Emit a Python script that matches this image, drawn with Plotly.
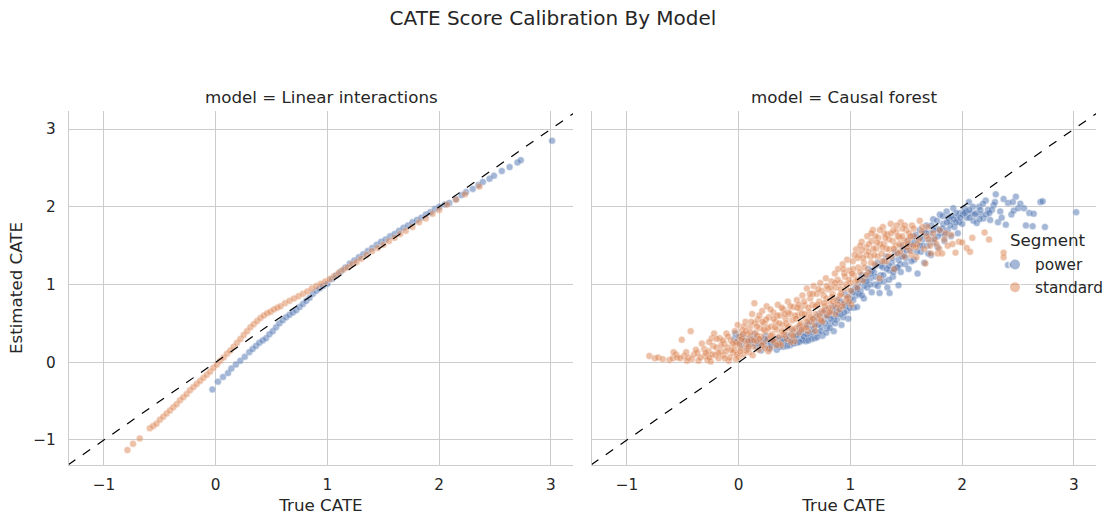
import plotly.graph_objects as go

# ---------------- data ----------------
# Panel 1: model = Linear interactions
lin_power_x = [-0.03, 0.02, 0.065, 0.11, 0.14, 0.18, 0.22, 0.26, 0.30, 0.33,
               0.36, 0.39, 0.42, 0.45, 0.48, 0.51, 0.54, 0.57, 0.60, 0.63,
               0.66, 0.69, 0.72, 0.75, 0.78, 0.81, 0.84, 0.87, 0.90, 0.93,
               0.96, 1.00, 1.04, 1.08, 1.12, 1.16, 1.20, 1.24, 1.28, 1.32,
               1.36, 1.40, 1.44, 1.48, 1.52, 1.56, 1.60, 1.64, 1.68, 1.72,
               1.76, 1.80, 1.84, 1.88, 1.92, 1.96, 2.00, 2.05, 2.09, 2.15,
               2.20, 2.24, 2.30, 2.35, 2.39, 2.45, 2.49, 2.56, 2.63, 2.70,
               2.73, 3.01]
lin_power_y = [-0.35, -0.25, -0.19, -0.14, -0.08, -0.03, 0.02, 0.07, 0.13, 0.17,
               0.21, 0.25, 0.28, 0.31, 0.36, 0.40, 0.45, 0.50, 0.54, 0.58,
               0.61, 0.64, 0.67, 0.71, 0.75, 0.79, 0.83, 0.88, 0.92, 0.95,
               0.98, 1.01, 1.07, 1.12, 1.17, 1.22, 1.27, 1.31, 1.35, 1.39,
               1.43, 1.47, 1.51, 1.55, 1.58, 1.62, 1.65, 1.69, 1.73, 1.76,
               1.80, 1.83, 1.86, 1.90, 1.93, 1.97, 2.00, 2.03, 2.05, 2.10,
               2.15, 2.19, 2.23, 2.28, 2.32, 2.36, 2.40, 2.46, 2.51, 2.57,
               2.60, 2.85]

lin_std_x = [-0.79, -0.74, -0.68, -0.59, -0.56, -0.53, -0.50, -0.47, -0.44, -0.41,
             -0.38, -0.35, -0.32, -0.29, -0.26, -0.23, -0.20, -0.17, -0.14, -0.11,
             -0.08, -0.05, -0.02, 0.01, 0.04, 0.07, 0.10, 0.13, 0.16, 0.19,
             0.22, 0.25, 0.28, 0.31, 0.34, 0.37, 0.40, 0.43, 0.46, 0.49,
             0.52, 0.55, 0.58, 0.62, 0.66, 0.70, 0.74, 0.78, 0.82, 0.86,
             0.90, 0.94, 0.98, 1.02, 1.06, 1.10, 1.14, 1.18, 1.22, 1.26,
             1.30, 1.35, 1.40, 1.45, 1.50, 1.55, 1.60, 1.65, 1.70, 1.76,
             1.82, 1.88, 1.94, 2.00, 2.07, 2.15, 2.23, 2.36]
lin_std_y = [-1.13, -1.05, -0.98, -0.85, -0.82, -0.79, -0.74, -0.70, -0.66, -0.62,
             -0.58, -0.54, -0.49, -0.45, -0.41, -0.36, -0.32, -0.28, -0.24, -0.20,
             -0.16, -0.12, -0.07, -0.03, 0.02, 0.06, 0.11, 0.15, 0.20, 0.25,
             0.30, 0.35, 0.40, 0.45, 0.49, 0.53, 0.57, 0.60, 0.63, 0.65,
             0.68, 0.70, 0.72, 0.76, 0.79, 0.82, 0.85, 0.88, 0.91, 0.95,
             0.98, 1.01, 1.04, 1.07, 1.11, 1.15, 1.19, 1.22, 1.26, 1.29,
             1.33, 1.38, 1.43, 1.47, 1.51, 1.56, 1.60, 1.65, 1.69, 1.74,
             1.80, 1.85, 1.91, 1.96, 2.03, 2.09, 2.16, 2.26]

# Panel 2: model = Causal forest  (pairs of (true, estimated))
cf_std_pts = [
    (-0.80, 0.08), (-0.75, 0.05), (-0.72, 0.06), (-0.68, 0.04), (-0.62, 0.03),
    (-0.59, 0.05), (-0.56, 0.10), (-0.55, 0.06), (-0.51, 0.29), (-0.49, 0.08),
    (-0.47, 0.13), (-0.45, 0.06), (-0.43, 0.40), (-0.42, 0.04), (-0.40, 0.10),
    (-0.37, 0.12), (-0.36, 0.02), (-0.33, 0.24), (-0.31, 0.17), (-0.30, 0.08),
    (-0.28, 0.03), (-0.27, 0.14), (-0.25, 0.01), (-0.24, 0.31), (-0.23, 0.21),
    (-0.22, 0.37), (-0.21, 0.09), (-0.20, 0.19), (-0.18, 0.05), (-0.17, 0.31),
    (-0.16, 0.14), (-0.14, 0.09), (-0.13, 0.24), (-0.11, 0.37), (-0.10, 0.19),
    (-0.09, 0.02), (-0.08, 0.06), (-0.07, 0.28), (-0.05, 0.12), (-0.04, 0.15),
    (-0.03, 0.22), (-0.02, 0.26), (-0.01, 0.48), (0.00, 0.07), (0.01, 0.33),
    (0.02, 0.18), (0.03, 0.41), (0.04, 0.10), (0.05, 0.28), (0.06, 0.52),
    (0.07, 0.22), (0.08, 0.36), (0.09, 0.13), (0.10, 0.45), (0.11, 0.30),
    (0.12, 0.62), (0.13, 0.20), (0.14, 0.76), (0.15, 0.38), (0.16, 0.27),
    (0.17, 0.55), (0.18, 0.16), (0.19, 0.44), (0.20, 0.33), (0.21, 0.66),
    (0.22, 0.24), (0.23, 0.50), (0.24, 0.40), (0.25, 0.72), (0.26, 0.30),
    (0.27, 0.58), (0.28, 0.18), (0.29, 0.46), (0.30, 0.36), (0.31, 0.64),
    (0.32, 0.27), (0.33, 0.52), (0.34, 0.42), (0.35, 0.74), (0.36, 0.33),
    (0.37, 0.60), (0.38, 0.22), (0.39, 0.48), (0.40, 0.68), (0.41, 0.39),
    (0.42, 0.56), (0.43, 0.30), (0.44, 0.78), (0.45, 0.46), (0.46, 0.62),
    (0.47, 0.36), (0.48, 0.54), (0.49, 0.71), (0.50, 0.27), (0.51, 0.44),
    (0.52, 0.80), (0.53, 0.60), (0.54, 0.38), (0.55, 0.68), (0.56, 0.50),
    (0.57, 0.86), (0.58, 0.44), (0.59, 0.73), (0.60, 0.57), (0.61, 0.95),
    (0.62, 0.40), (0.63, 0.64), (0.64, 0.82), (0.65, 0.52), (0.66, 0.74),
    (0.67, 0.98), (0.68, 0.47), (0.69, 0.62), (0.70, 0.88), (0.71, 0.56),
    (0.72, 0.78), (0.73, 1.02), (0.74, 0.66), (0.75, 0.52), (0.76, 0.86),
    (0.77, 0.72), (0.78, 1.08), (0.79, 0.60), (0.80, 0.94), (0.81, 0.78),
    (0.82, 0.66), (0.83, 1.04), (0.84, 0.88), (0.85, 0.72), (0.86, 1.14),
    (0.87, 0.96), (0.88, 0.80), (0.89, 1.20), (0.90, 0.68), (0.91, 1.02),
    (0.92, 0.88), (0.93, 1.26), (0.94, 0.76), (0.95, 1.10), (0.96, 0.95),
    (0.97, 1.32), (0.98, 0.84), (0.99, 1.18), (1.00, 1.02), (1.01, 0.74),
    (1.02, 1.30), (1.03, 1.12), (1.05, 1.45), (1.06, 0.96), (1.07, 1.22),
    (1.08, 1.38), (1.10, 1.55), (1.11, 1.05), (1.12, 1.28), (1.14, 1.48),
    (1.15, 1.62), (1.16, 1.16), (1.18, 1.36), (1.19, 1.56), (1.20, 1.70),
    (1.22, 1.26), (1.23, 1.46), (1.25, 1.60), (1.26, 1.08), (1.28, 1.40),
    (1.29, 1.74), (1.30, 1.52), (1.32, 1.30), (1.33, 1.64), (1.35, 1.45),
    (1.36, 1.78), (1.38, 1.56), (1.39, 1.20), (1.41, 1.68), (1.42, 1.40),
    (1.44, 1.60), (1.45, 1.80), (1.47, 1.50), (1.48, 1.36), (1.50, 1.70),
    (1.52, 1.58), (1.53, 1.44), (1.55, 1.76), (1.57, 1.62), (1.59, 1.35),
    (1.60, 1.52), (1.62, 1.82), (1.64, 1.68), (1.66, 1.46), (1.67, 1.27),
    (1.69, 1.74), (1.70, 1.58), (1.72, 1.40), (1.74, 1.66), (1.77, 1.52),
    (1.78, 1.40), (1.80, 1.70), (1.82, 1.40), (1.84, 1.58), (1.87, 1.50),
    (1.90, 1.64), (1.94, 1.41), (1.97, 1.55), (2.00, 1.54), (2.04, 1.47),
    (2.07, 1.42), (2.09, 1.60), (2.20, 1.67), (2.24, 1.58), (2.37, 1.41),
    (2.37, 1.35),
    # second pass of readings in the dense part of the cloud
    (-0.295, 0.12), (-0.265, 0.26), (-0.235, 0.10), (-0.195, 0.30), (-0.155, 0.22),
    (-0.125, 0.05), (-0.095, 0.33), (-0.065, 0.16), (-0.035, 0.40), (-0.015, 0.10),
    (0.005, 0.24), (0.025, 0.30), (0.045, 0.46), (0.065, 0.15), (0.085, 0.27),
    (0.105, 0.38), (0.125, 0.09), (0.145, 0.50), (0.165, 0.34), (0.185, 0.60),
    (0.205, 0.22), (0.225, 0.42), (0.245, 0.55), (0.265, 0.14), (0.285, 0.68),
    (0.305, 0.28), (0.325, 0.45), (0.345, 0.60), (0.365, 0.24), (0.385, 0.70),
    (0.405, 0.35), (0.425, 0.50), (0.445, 0.64), (0.465, 0.26), (0.485, 0.42),
    (0.505, 0.60), (0.525, 0.70), (0.545, 0.48), (0.565, 0.62), (0.585, 0.78),
    (0.605, 0.45), (0.625, 0.70), (0.645, 0.58), (0.665, 0.88), (0.685, 0.40),
    (0.705, 0.74), (0.725, 0.60), (0.745, 0.92), (0.765, 0.66), (0.785, 0.82),
    (0.805, 0.70), (0.825, 0.96), (0.845, 0.78), (0.865, 0.62), (0.885, 1.06),
    (0.905, 0.86), (0.925, 0.72), (0.945, 1.14), (0.965, 0.82), (0.985, 1.06),
    (1.005, 0.92), (1.025, 1.20), (1.045, 1.04), (1.065, 1.34), (1.085, 1.16),
    (1.105, 1.44), (1.125, 1.22), (1.145, 1.38), (1.165, 1.52), (1.185, 1.28),
    (1.205, 1.46), (1.225, 1.62), (1.245, 1.36), (1.265, 1.52), (1.285, 1.30),
    (1.305, 1.66), (1.325, 1.46), (1.345, 1.58), (1.365, 1.36), (1.385, 1.70),
    (1.405, 1.50), (1.425, 1.62), (1.445, 1.42), (1.465, 1.72), (1.485, 1.56),
    (1.505, 1.48), (1.525, 1.66), (1.545, 1.38), (1.565, 1.72), (1.585, 1.48),
    # third pass
    (-0.583, 0.13), (-0.523, 0.05), (-0.463, 0.02), (-0.383, 0.16), (-0.343, 0.06),
    (-0.263, 0.06), (-0.183, 0.12), (-0.143, 0.28), (-0.113, 0.14), (-0.053, 0.24),
    (-0.023, 0.04), (0.013, 0.14), (0.037, 0.36), (0.063, 0.40), (0.087, 0.20),
    (0.113, 0.52), (0.137, 0.28), (0.163, 0.46), (0.187, 0.30), (0.213, 0.52),
    (0.237, 0.18), (0.263, 0.44), (0.287, 0.34), (0.313, 0.56), (0.337, 0.22),
    (0.363, 0.50), (0.387, 0.40), (0.413, 0.62), (0.437, 0.44), (0.463, 0.72),
    (0.487, 0.34), (0.513, 0.56), (0.537, 0.74), (0.563, 0.42), (0.587, 0.62),
    (0.613, 0.52), (0.637, 0.88), (0.663, 0.56), (0.687, 0.72), (0.713, 0.94),
    (0.737, 0.54), (0.763, 0.76), (0.787, 0.98), (0.813, 0.64), (0.837, 0.84),
    (0.863, 1.02), (0.887, 0.74), (0.913, 0.94), (0.937, 1.20), (0.963, 1.00),
    (0.987, 0.78), (1.013, 1.14), (1.037, 1.38), (1.063, 1.06), (1.087, 1.50),
    (1.113, 1.34), (1.137, 1.12), (1.163, 1.42), (1.187, 1.66), (1.213, 1.38),
    (1.237, 1.54), (1.263, 1.70), (1.287, 1.48), (1.313, 1.60), (1.337, 1.36),
    (1.363, 1.66), (1.387, 1.46), (1.413, 1.76), (1.437, 1.52), (1.463, 1.62),
    (1.487, 1.76), (1.513, 1.52), (1.537, 1.62), (1.563, 1.50), (1.613, 1.58),
    (1.643, 1.74), (1.683, 1.62), (1.713, 1.50), (1.753, 1.58), (1.793, 1.46),
    (1.853, 1.66), (1.913, 1.52),
]
cf_power_pts = [
    (-0.04, 0.30), (-0.03, 0.37), (-0.02, 0.26), (0.00, 0.33), (0.02, 0.22),
    (0.04, 0.35), (0.06, 0.28), (0.08, 0.18), (0.10, 0.31), (0.12, 0.24),
    (0.14, 0.36), (0.16, 0.20), (0.18, 0.29), (0.20, 0.15), (0.22, 0.26),
    (0.24, 0.34), (0.26, 0.21), (0.28, 0.19), (0.30, 0.28), (0.32, 0.23),
    (0.34, 0.16), (0.36, 0.31), (0.38, 0.25), (0.40, 0.20), (0.42, 0.35),
    (0.44, 0.28), (0.46, 0.22), (0.48, 0.40), (0.50, 0.31), (0.52, 0.25),
    (0.54, 0.45), (0.56, 0.30), (0.58, 0.38), (0.60, 0.27), (0.62, 0.48),
    (0.63, 0.34), (0.65, 0.42), (0.66, 0.56), (0.68, 0.31), (0.69, 0.50),
    (0.71, 0.38), (0.72, 0.62), (0.74, 0.46), (0.75, 0.34), (0.77, 0.56),
    (0.78, 0.68), (0.79, 0.44), (0.81, 0.60), (0.82, 0.50), (0.84, 0.72),
    (0.85, 0.40), (0.86, 0.64), (0.88, 0.55), (0.89, 0.80), (0.91, 0.62),
    (0.92, 0.48), (0.94, 0.74), (0.95, 0.88), (0.97, 0.66), (0.98, 0.56),
    (1.00, 0.82), (1.01, 0.92), (1.03, 0.70), (1.05, 0.86), (1.06, 0.71),
    (1.07, 1.00), (1.09, 0.92), (1.10, 1.12), (1.12, 0.82), (1.13, 1.04),
    (1.15, 0.96), (1.16, 1.20), (1.18, 1.08), (1.19, 0.90), (1.21, 1.16),
    (1.22, 1.00), (1.24, 1.28), (1.26, 0.89), (1.27, 1.12), (1.29, 1.22),
    (1.30, 1.04), (1.32, 1.36), (1.33, 0.96), (1.35, 0.89), (1.35, 1.18),
    (1.37, 1.28), (1.38, 1.10), (1.40, 1.42), (1.41, 1.22), (1.43, 0.99),
    (1.43, 1.32), (1.45, 1.16), (1.46, 1.50), (1.48, 1.38), (1.49, 1.26),
    (1.51, 1.56), (1.52, 1.20), (1.54, 1.44), (1.56, 1.62), (1.57, 1.32),
    (1.59, 1.52), (1.60, 1.14), (1.62, 1.70), (1.63, 1.42), (1.65, 1.58),
    (1.66, 1.28), (1.68, 1.76), (1.69, 1.50), (1.71, 1.66), (1.72, 1.38),
    (1.74, 1.84), (1.75, 1.60), (1.77, 1.72), (1.78, 1.48), (1.80, 1.90),
    (1.81, 1.66), (1.83, 1.78), (1.84, 1.56), (1.86, 1.94), (1.87, 1.70),
    (1.89, 1.82), (1.90, 1.62), (1.92, 1.98), (1.93, 1.74), (1.95, 1.86),
    (1.96, 1.66), (1.98, 1.92), (2.00, 1.78), (2.02, 1.98), (2.04, 1.86),
    (2.06, 2.06), (2.08, 1.92), (2.10, 1.82), (2.13, 1.79), (2.15, 2.00),
    (2.17, 1.90), (2.19, 1.85), (2.21, 2.08), (2.23, 1.96), (2.25, 1.83),
    (2.28, 2.02), (2.30, 2.16), (2.32, 1.80), (2.34, 1.94), (2.37, 2.10),
    (2.39, 1.77), (2.41, 2.05), (2.41, 1.25), (2.44, 1.90), (2.46, 1.95),
    (2.48, 2.13), (2.50, 1.98), (2.52, 2.04), (2.57, 1.76), (2.60, 1.92),
    (2.63, 1.75), (2.64, 1.91), (2.70, 2.06), (2.72, 2.07), (2.74, 1.74),
    (3.02, 1.93),
    # second pass of readings in the dense part of the cloud
    (0.03, 0.30), (0.09, 0.25), (0.15, 0.30), (0.21, 0.22), (0.25, 0.28),
    (0.29, 0.24), (0.33, 0.30), (0.37, 0.20), (0.41, 0.27), (0.45, 0.33),
    (0.49, 0.24), (0.53, 0.36), (0.555, 0.40), (0.575, 0.28), (0.595, 0.46),
    (0.615, 0.36), (0.635, 0.52), (0.655, 0.30), (0.675, 0.44), (0.695, 0.58),
    (0.715, 0.48), (0.735, 0.40), (0.755, 0.64), (0.775, 0.50), (0.795, 0.60),
    (0.815, 0.44), (0.835, 0.66), (0.855, 0.56), (0.875, 0.70), (0.895, 0.62),
    (0.915, 0.78), (0.935, 0.58), (0.955, 0.72), (0.975, 0.84), (0.995, 0.70),
    (1.025, 0.80), (1.045, 0.96), (1.075, 0.88), (1.095, 1.06), (1.125, 0.98),
    (1.145, 1.12), (1.175, 1.00), (1.195, 1.18), (1.225, 1.10), (1.245, 0.98),
    (1.275, 1.24), (1.295, 1.12), (1.325, 1.20), (1.345, 1.06), (1.375, 1.34),
    (1.395, 1.20), (1.425, 1.40), (1.445, 1.26), (1.475, 1.46), (1.495, 1.34),
    (1.525, 1.50), (1.545, 1.30), (1.575, 1.56), (1.595, 1.42), (1.625, 1.60),
    (1.645, 1.50), (1.675, 1.66), (1.695, 1.40), (1.725, 1.76), (1.745, 1.54),
    (1.775, 1.82), (1.795, 1.70), (1.825, 1.88), (1.845, 1.64), (1.875, 1.86),
    (1.895, 1.76), (1.925, 1.84), (1.945, 1.92), (1.975, 1.80), (2.005, 1.90),
    (2.035, 1.94), (2.065, 1.86), (2.095, 2.00), (2.125, 1.92), (2.155, 1.84),
    (2.185, 2.04), (2.215, 1.90), (2.265, 1.96),
    # third pass
    (0.113, 0.28), (0.173, 0.24), (0.233, 0.30), (0.273, 0.17), (0.313, 0.26),
    (0.353, 0.22), (0.393, 0.30), (0.433, 0.21), (0.473, 0.28), (0.513, 0.34),
    (0.543, 0.26), (0.583, 0.33), (0.623, 0.28), (0.663, 0.38), (0.703, 0.32),
    (0.743, 0.52), (0.783, 0.38), (0.823, 0.56), (0.863, 0.50), (0.903, 0.68),
    (0.943, 0.64), (0.983, 0.76), (1.023, 0.90), (1.063, 0.94), (1.103, 0.86),
    (1.143, 1.04), (1.183, 1.14), (1.223, 1.24), (1.263, 1.04), (1.303, 1.30),
    (1.343, 1.24), (1.383, 1.16), (1.423, 1.22), (1.463, 1.36), (1.503, 1.44),
    (1.543, 1.52), (1.583, 1.64), (1.623, 1.50), (1.663, 1.68), (1.703, 1.58),
    (1.743, 1.70), (1.783, 1.62), (1.823, 1.72), (1.863, 1.80), (1.903, 1.88),
    (1.943, 1.80), (1.983, 1.86), (2.023, 1.92), (2.063, 1.96), (2.113, 1.90),
    (2.163, 1.96), (2.243, 1.92), (2.293, 2.06), (2.353, 1.86), (2.453, 2.06),
    (2.553, 1.98),
]

panel_titles = ["model = Linear interactions", "model = Causal forest"]
legend_title = "Segment"
tick_vals = [-1, 0, 1, 2, 3]
x_range = [-1.313, 3.197]
y_range = [-1.322, 3.232]

# ---------------- styling ----------------
COLORS = {"power": "#4C72B0", "standard": "#DD8452"}
FONT = "DejaVu Sans"
TXT = "#262626"
GRID = "#cccccc"

# page body margin is removed by a post script, so lay out in window pixels
W, H = 1117, 527
L, R, T, B = 69, 1096, 111, 465
pw, ph = R - L, B - T


def px_x(wx):
    return (wx - L) / pw


def px_y(wy):
    return (B - wy) / ph


def scatter(x, y, seg, xa, ya, show):
    return go.Scatter(
        x=x, y=y, mode="markers", name=seg, legendgroup=seg, showlegend=show,
        xaxis=xa, yaxis=ya, hoverinfo="skip",
        marker=dict(color=COLORS[seg], size=7, opacity=0.5,
                    line=dict(color="white", width=0.5)),
    )


fig = go.Figure()
fig.add_trace(scatter(lin_power_x, lin_power_y, "power", "x", "y", True))
fig.add_trace(scatter(lin_std_x, lin_std_y, "standard", "x", "y", True))
fig.add_trace(scatter([p[0] for p in cf_power_pts], [p[1] for p in cf_power_pts],
                      "power", "x2", "y2", False))
fig.add_trace(scatter([p[0] for p in cf_std_pts], [p[1] for p in cf_std_pts],
                      "standard", "x2", "y2", False))

# diagonal y = x reference lines spanning the axis limits
for xr, yr in (("x", "y"), ("x2", "y2")):
    fig.add_shape(type="line", xref=xr, yref=yr,
                  x0=y_range[0], y0=y_range[0], x1=y_range[1], y1=y_range[1],
                  line=dict(color="black", width=1.2, dash="dash"), layer="above")

d1 = [0, px_x(573)]
d2 = [px_x(592), 1]

axis_common = dict(
    range=x_range, tickvals=tick_vals, showgrid=True, gridcolor=GRID, gridwidth=1,
    zeroline=False, showline=True, linecolor=GRID, linewidth=1.4, ticks="",
    tickfont=dict(family=FONT, size=15.3, color=TXT), mirror=False,
)
xaxis_common = dict(axis_common, ticklabelstandoff=5,
                    title=dict(text="True CATE", font=dict(family=FONT, size=16.7, color=TXT), standoff=6))
yaxis_common = dict(axis_common, range=y_range, ticklabelstandoff=9)

fig.update_layout(
    width=W, height=H,
    margin=dict(l=L, r=W - R, t=T, b=H - B, pad=0, autoexpand=False),
    paper_bgcolor="white", plot_bgcolor="white",
    font=dict(family=FONT, color=TXT),
    hovermode=False,
    title=dict(text="CATE Score Calibration By Model", x=553 / W, xref="container",
               y=1 - 18 / H, yref="container", xanchor="center", yanchor="middle",
               font=dict(family=FONT, size=20, color=TXT)),
    xaxis=dict(xaxis_common, domain=d1, anchor="y"),
    xaxis2=dict(xaxis_common, domain=d2, anchor="y2"),
    yaxis=dict(yaxis_common, domain=[0, 1], anchor="x",
               title=dict(text="Estimated CATE", font=dict(family=FONT, size=16.7, color=TXT), standoff=6)),
    yaxis2=dict(yaxis_common, domain=[0, 1], anchor="x2", showticklabels=False),
    legend=dict(
        x=px_x(995), xanchor="left", y=px_y(248), yanchor="top",
        bgcolor="rgba(0,0,0,0)", borderwidth=0,
        font=dict(family=FONT, size=15.3, color=TXT),
        itemsizing="constant", tracegroupgap=0,
    ),
    showlegend=True,
)

# legend title drawn as text so it can sit where the reference puts it
fig.add_annotation(text=legend_title, xref="paper", yref="paper", x=px_x(1008), y=px_y(240),
                   xanchor="left", yanchor="middle", showarrow=False,
                   font=dict(family=FONT, size=16.7, color=TXT))

for i, t in enumerate(panel_titles):
    d = d1 if i == 0 else d2
    fig.add_annotation(text=t, xref="paper", yref="paper", x=(d[0] + d[1]) / 2,
                       y=px_y(97), xanchor="center", yanchor="middle",
                       showarrow=False, font=dict(family=FONT, size=16.7, color=TXT))

fig.write_html("out.html", config={"displayModeBar": False},
               post_script="document.body.style.margin='0';")
